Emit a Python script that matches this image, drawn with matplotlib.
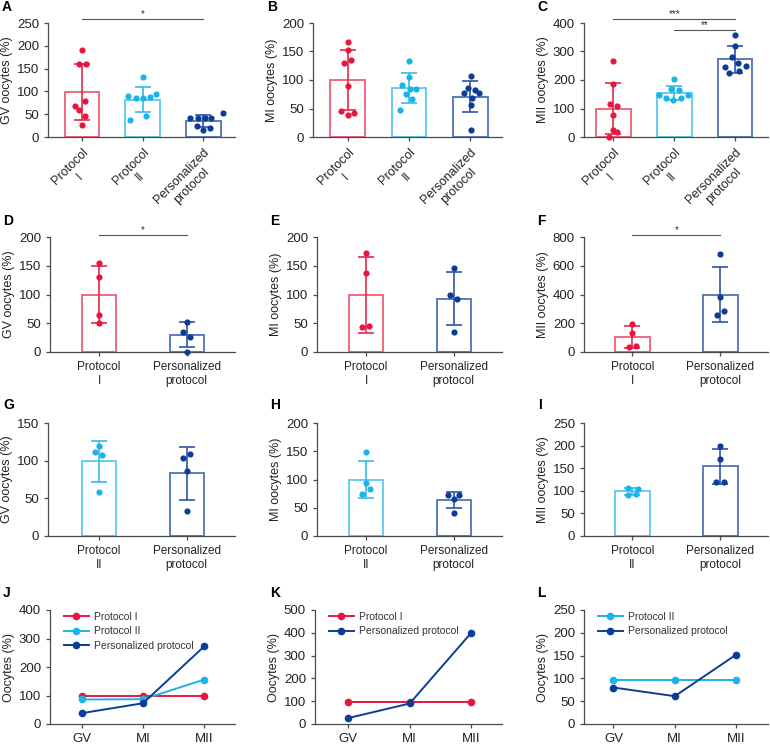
import matplotlib
matplotlib.use("Agg")
import matplotlib.pyplot as plt
import numpy as np

plt.rcParams['font.family'] = ['Liberation Sans', 'DejaVu Sans']

# ---- data ----
labels_3 = ["Protocol\nI", "Protocol\nII", "Personalized\nprotocol"]
labels_p1 = ["Protocol\nI", "Personalized\nprotocol"]
labels_p2 = ["Protocol\nII", "Personalized\nprotocol"]
stages = ["GV", "MI", "MII"]

# A: GV, all three groups
a_means = [99, 82, 35]
a_sds = [62, 28, 13]
a_points = [
  [191, 161, 161, 79, 69, 59, 45, 26],
  [131, 95, 89, 86, 86, 88, 47, 37],
  [53, 42, 42, 42, 42, 24, 20, 15],
]
a_jitter = [
  [0, -1, 1.2, 1, -2, -1, 1, 0],
  [0, 4, -4.3, -2, 0, 2.2, 1, -3.8],
  [6, -4, -1.6, 0.6, 2.3, -1.8, 2, 0],
]

# B: MI, all three groups
b_means = [100, 86, 71]
b_sds = [53, 26, 28]
b_points = [
  [167, 152, 129, 135, 89, 45, 38, 42],
  [133, 106, 92, 85, 85, 76, 67, 48],
  [107, 86, 82, 78, 77, 68, 57, 12],
]
b_jitter = [
  [0, 0, -1.2, 1, 0, -2, 0, 1.8],
  [0, 0, -2, 0.2, 2.2, -1, 1, -2.6],
  [0.3, -0.7, 1.5, -1.7, 2.5, 0.5, 0.3, 0.3],
]

# C: MII, all three groups
c_means = [100, 154, 272]
c_sds = [90, 24, 46]
c_points = [
  [265, 187, 116, 108, 76, 23, 18, 0],
  [202, 167, 164, 146, 146, 138, 131, 138],
  [359, 318, 281, 261, 246, 248, 226, 230],
]
c_jitter = [
  [0, 0, -1, 1, 0, 0, 1, -1.2],
  [0, -1, 1.5, -4.5, 4, -2.3, -0.3, 2],
  [0, 0, -1, 1, -3, 3.2, -1.8, 1.2],
]

# D-F: Protocol I vs personalized
d_means = [100, 30]
d_sds = [50, 22]
d_points = [[155, 130, 65, 51], [52, 35, 26, 0]]
d_jitter = [[0, 0, 0, 0], [0, -1.2, 1, 0]]

e_means = [99, 93]
e_sds = [66, 46]
e_points = [[172, 137, 43, 46], [146, 99, 92, 34]]
e_jitter = [[0, 0, -1.2, 1], [0, -1, 1, 0]]

f_means = [102, 400]
f_sds = [76, 194]
f_points = [[198, 130, 33, 44], [681, 384, 256, 284]]
f_jitter = [[0, 0, -1.1, 1.1], [0, 0, -1, 1]]

# G-I: Protocol II vs personalized
g_means = [99, 83]
g_sds = [27, 35]
g_points = [[120, 111, 107, 59], [109, 104, 86, 33]]
g_jitter = [[0, -1.2, 1, 0], [1, -1.2, 0, 0]]

h_means = [100, 63]
h_sds = [33, 14]
h_points = [[148, 93, 84, 74], [72, 73, 66, 41]]
h_jitter = [[0, 0, 1.1, -1.2], [-1.7, 1.5, 0, 0]]

i_means = [99, 154]
i_sds = [8, 39]
i_points = [[107, 105, 90, 94], [200, 171, 120, 120]]
i_jitter = [[-1.2, 1.6, -1.2, 1], [0, 0, -1.2, 1]]

# J-L: group means per stage
j_p1 = [100, 100, 100]
j_p2 = [86, 87, 156]
j_pers = [38, 73, 273]
k_p1 = [98, 98, 98]
k_pers = [26, 90, 400]
l_p2 = [97, 97, 97]
l_pers = [80, 61, 152]

# ---- styling ----
# (point, bar edge, error bar)
P1 = ("#e5173f", "#f2687f", "#e8284d")
P2 = ("#1bb4ea", "#66cdf1", "#34bcec")
PERS = ("#0c3d96", "#5b7cbd", "#2d56a5")
AXC = "#4a4a4a"
W, H = 770, 744


def px_axes(fig, x0, y0, x1, y1):
  return fig.add_axes([x0 / W, 1 - y1 / H, (x1 - x0) / W, (y1 - y0) / H])


def style(ax, ylim, yticks, ylabel):
  for s in ["top", "right"]:
    ax.spines[s].set_visible(False)
  for s in ["left", "bottom"]:
    ax.spines[s].set_color(AXC)
    ax.spines[s].set_linewidth(0.9)
  ax.set_ylim(*ylim)
  ax.set_yticks(yticks)
  ax.tick_params(axis="both", colors=AXC, length=3, width=0.9, labelsize=9.5, labelcolor="#222222")
  ax.set_ylabel(ylabel, fontsize=9, color="#222222", labelpad=3)


def bar_panel(ax, means, sds, points, jitter, colors, labels, step, xlim, ylim, yticks, ylabel, rotate=False):
  x = np.arange(len(means))
  width = 0.57 if len(means) == 3 else 0.39
  for i in range(len(means)):
    pc, bc, ec = colors[i]
    ax.bar(x[i], means[i], width=width, facecolor="white", edgecolor=bc, linewidth=1.4, zorder=2)
    ax.errorbar(x[i], means[i], yerr=sds[i], color=ec, capsize=6, elinewidth=1.2, capthick=1.2, zorder=3)
    xs = x[i] + np.array(jitter[i]) * step
    ax.scatter(xs, points[i], s=20, color=pc, zorder=4, linewidths=0, clip_on=False)
  ax.set_xlim(*xlim)
  style(ax, ylim, yticks, ylabel)
  ax.set_xticks(x)
  if rotate:
    ax.set_xticklabels(labels, rotation=45, ha="right", va="top", rotation_mode="anchor",
                       multialignment="center", fontsize=9)
  else:
    ax.set_xticklabels(labels, fontsize=8.5, multialignment="center")


def sig(ax, x0, x1, y, txt):
  ax.plot([x0, x1], [y, y], color="#555555", lw=0.8, clip_on=False)
  ax.text((x0 + x1) / 2, y, txt, ha="center", va="bottom", fontsize=7, color="#333333")


def line_panel(ax, series, colors, names, xlim, ylim, yticks):
  for ys, c, n in zip(series, colors, names):
    ax.plot(range(3), ys, color=c, lw=1.4, marker="o", markersize=4.5, label=n, clip_on=False, zorder=3)
  ax.set_xlim(*xlim)
  style(ax, ylim, yticks, "Oocytes (%)")
  ax.set_xticks(range(3))
  ax.set_xticklabels(stages, fontsize=9.5)
  leg = ax.legend(loc="upper left", bbox_to_anchor=(0.04, 1.04), frameon=False, fontsize=7.5,
                  handlelength=2.4, labelspacing=0.45, borderaxespad=0.2, handletextpad=0.5)
  for t in leg.get_texts():
    t.set_color("#333333")


def letter(fig, x, y, t):
  fig.text(x / W, 1 - y / H, t, fontsize=10, fontweight="bold", ha="left", va="center")


def main():
  fig = plt.figure(figsize=(7.7, 7.44), dpi=100)
  grp3 = [P1, P2, PERS]

  ax = px_axes(fig, 48, 23, 235, 137)
  bar_panel(ax, a_means, a_sds, a_points, a_jitter, grp3, labels_3, 0.055, (-0.56, 2.52), (0, 250),
            [0, 50, 100, 150, 200, 250], "GV oocytes (%)", rotate=True)
  sig(ax, 0, 2, 259, "*")

  ax = px_axes(fig, 313, 23, 502, 137)
  bar_panel(ax, b_means, b_sds, b_points, b_jitter, grp3, labels_3, 0.055, (-0.57, 2.52), (0, 200),
            [0, 50, 100, 150, 200], "MI oocytes (%)", rotate=True)

  ax = px_axes(fig, 584, 23, 768, 137)
  bar_panel(ax, c_means, c_sds, c_points, c_jitter, grp3, labels_3, 0.055, (-0.48, 2.54), (0, 400),
            [0, 100, 200, 300, 400], "MII oocytes (%)", rotate=True)
  sig(ax, 0, 2, 414, "***")
  sig(ax, 1, 2, 375, "**")

  ax = px_axes(fig, 50, 237, 235, 352)
  bar_panel(ax, d_means, d_sds, d_points, d_jitter, [P1, PERS], labels_p1, 0.038, (-0.56, 1.55), (0, 200),
            [0, 50, 100, 150, 200], "GV oocytes (%)")
  sig(ax, 0, 1, 203.5, "*")

  ax = px_axes(fig, 317, 237, 502, 352)
  bar_panel(ax, e_means, e_sds, e_points, e_jitter, [P1, PERS], labels_p1, 0.038, (-0.56, 1.55), (0, 200),
            [0, 50, 100, 150, 200], "MI oocytes (%)")

  ax = px_axes(fig, 584, 237, 768, 352)
  bar_panel(ax, f_means, f_sds, f_points, f_jitter, [P1, PERS], labels_p1, 0.038, (-0.55, 1.54), (0, 800),
            [0, 200, 400, 600, 800], "MII oocytes (%)")
  sig(ax, 0, 1, 814, "*")

  ax = px_axes(fig, 48, 423, 235, 536)
  bar_panel(ax, g_means, g_sds, g_points, g_jitter, [P2, PERS], labels_p2, 0.038, (-0.58, 1.55), (0, 150),
            [0, 50, 100, 150], "GV oocytes (%)")

  ax = px_axes(fig, 317, 423, 502, 536)
  bar_panel(ax, h_means, h_sds, h_points, h_jitter, [P2, PERS], labels_p2, 0.038, (-0.56, 1.55), (0, 200),
            [0, 50, 100, 150, 200], "MI oocytes (%)")

  ax = px_axes(fig, 584, 423, 768, 536)
  bar_panel(ax, i_means, i_sds, i_points, i_jitter, [P2, PERS], labels_p2, 0.038, (-0.55, 1.54), (0, 250),
            [0, 50, 100, 150, 200, 250], "MII oocytes (%)")

  ax = px_axes(fig, 50, 610, 235, 724)
  line_panel(ax, [j_p1, j_p2, j_pers], [P1[0], P2[0], PERS[0]],
             ["Protocol I", "Protocol II", "Personalized protocol"], (-0.52, 2.5), (0, 400),
             [0, 100, 200, 300, 400])

  ax = px_axes(fig, 315, 610, 502, 724)
  line_panel(ax, [k_p1, k_pers], [P1[0], PERS[0]],
             ["Protocol I", "Personalized protocol"], (-0.54, 2.5), (0, 500),
             [0, 100, 200, 300, 400, 500])

  ax = px_axes(fig, 584, 610, 768, 724)
  line_panel(ax, [l_p2, l_pers], [P2[0], PERS[0]],
             ["Protocol II", "Personalized protocol"], (-0.48, 2.52), (0, 250),
             [0, 50, 100, 150, 200, 250])

  for x, y, t in [(2, 7, "A"), (267, 7, "B"), (537, 7, "C"),
                  (3, 221, "D"), (270, 221, "E"), (537, 221, "F"),
                  (3, 405, "G"), (270, 405, "H"), (538, 405, "I"),
                  (3, 593, "J"), (270, 593, "K"), (537, 593, "L")]:
    letter(fig, x, y, t)

  fig.savefig("out.png", dpi=100)


if __name__ == "__main__":
  main()
